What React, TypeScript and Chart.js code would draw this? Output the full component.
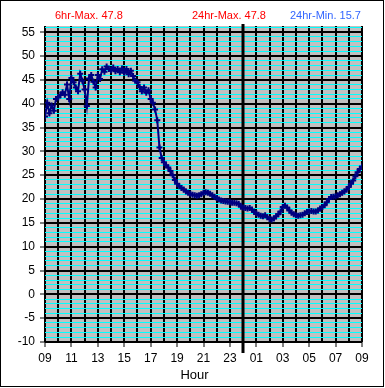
import React, { useEffect, useRef } from 'react';
import { Chart, registerables } from 'chart.js';

Chart.register(...registerables);

// Temperature readings every 10 minutes from 09:00 to 09:00 next day
const TEMPS: number[] = [
  // 09
  37.3, 40.2, 38.0, 39.6, 38.5, 41.0,
  // 10
  41.3, 41.8, 42.4, 41.9, 44.0, 41.0,
  // 11
  45.4, 44.5, 43.4, 42.6, 46.3, 44.8,
  // 12
  43.0, 39.5, 45.3, 46.0, 44.6, 43.4,
  // 13
  46.0, 45.2, 47.2, 46.7, 47.8, 47.3,
  // 14
  47.0, 47.6, 46.8, 47.3, 46.6, 47.4,
  // 15
  46.5, 47.3, 46.2, 46.9, 45.8, 44.8,
  // 16
  44.5, 43.5, 42.6, 43.4, 42.3, 42.8,
  // 17
  41.0, 40.2, 38.8, 36.5, 30.8, 28.6,
  // 18
  27.7, 27.1, 26.6, 25.9, 25.0, 24.0,
  // 19
  23.2, 22.7, 22.3, 22.0, 21.6, 21.3,
  // 20
  21.1, 20.9, 20.8, 20.7, 20.8, 21.0,
  // 21
  21.3, 21.4, 21.3, 21.1, 20.8, 20.5,
  // 22
  20.2, 19.9, 19.7, 19.6, 19.5, 19.4,
  // 23
  19.3, 19.2, 19.2, 19.1, 19.0, 18.4,
  // 00
  18.2, 18.1, 18.0, 18.1, 17.8, 17.3,
  // 01
  17.0, 16.7, 16.5, 16.4, 16.6, 16.2,
  // 02
  15.8, 15.7, 15.9, 16.4, 16.8, 17.4,
  // 03
  18.3, 18.6, 18.2, 17.6, 17.1, 16.8,
  // 04
  16.6, 16.5, 16.6, 16.7, 17.0, 17.3,
  // 05
  17.4, 17.5, 17.4, 17.4, 17.6, 18.0,
  // 06
  18.3, 18.7, 19.3, 20.0, 20.4, 20.5,
  // 07
  20.6, 20.8, 21.0, 21.3, 21.6, 22.0,
  // 08
  22.5, 23.2, 23.9, 24.8, 25.6, 26.3,
  // 09
  26.8,
];

const STEPS_PER_HOUR = 6;
const X_LABELS: string[] = ['09', '11', '13', '15', '17', '19', '21', '23', '01', '03', '05', '07', '09'];
const X_MIN = 0;
const X_MAX = 24;
const MIDNIGHT = 15;
const Y_MIN = -10;
const Y_MAX = 56.3;
const Y_MAJOR = 5;

const HEADER_TEXTS: string[] = ['6hr-Max. 47.8', '24hr-Max. 47.8', '24hr-Min. 15.7'];
const HEADER_COLORS: string[] = ['#ff0000', '#ff0000', '#3366ff'];
const AXIS_TITLE = 'Hour';

const FONT = '"Liberation Sans", Arial, sans-serif';

export default function App() {
  const ref = useRef<HTMLCanvasElement>(null);

  useEffect(() => {
    document.body.style.margin = '0';
    const canvas = ref.current!;

    const decor = {
      id: 'decor',
      beforeDraw(chart: any) {
        const { ctx, chartArea } = chart;
        ctx.save();
        ctx.fillStyle = '#ffffff';
        ctx.fillRect(0, 0, chart.width, chart.height);
        ctx.fillStyle = '#c0c0c0';
        ctx.fillRect(chartArea.left, chartArea.top, chartArea.right - chartArea.left, chartArea.bottom - chartArea.top);
        ctx.restore();
      },
      beforeDatasetsDraw(chart: any) {
        const { ctx, chartArea } = chart;
        const x = Math.round(chart.scales.x.getPixelForValue(MIDNIGHT));
        ctx.save();
        ctx.fillStyle = '#000000';
        ctx.fillRect(x - 1.5, chartArea.top - 2, 3, chartArea.bottom - chartArea.top + 13);
        ctx.restore();
      },
      afterDraw(chart: any) {
        const { ctx } = chart;
        ctx.save();
        ctx.font = `11px ${FONT}`;
        ctx.textBaseline = 'alphabetic';
        ctx.textAlign = 'left';
        const xs = [55, 192, 290];
        HEADER_TEXTS.forEach((t, i) => {
          ctx.fillStyle = HEADER_COLORS[i];
          ctx.fillText(t, xs[i], 19);
        });
        ctx.font = `13px ${FONT}`;
        ctx.fillStyle = '#000000';
        ctx.textAlign = 'center';
        ctx.fillText(AXIS_TITLE, 194.5, 379);
        ctx.strokeStyle = '#000000';
        ctx.lineWidth = 1;
        ctx.strokeRect(0.5, 0.5, 383, 386);
        ctx.restore();
      },
    };

    const chart = new Chart(canvas, {
      type: 'line',
      data: {
        datasets: [
          {
            data: TEMPS.map((t, i) => ({ x: i / STEPS_PER_HOUR, y: t })),
            borderColor: '#000080',
            backgroundColor: '#000080',
            borderWidth: 2,
            pointStyle: 'cross',
            pointRadius: 3,
            pointBorderWidth: 2,
            pointBorderColor: '#000080',
            pointBackgroundColor: '#000080',
            tension: 0,
            fill: false,
          },
        ],
      },
      options: {
        responsive: false,
        animation: false,
        events: [],
        layout: { padding: { left: 0, right: 23, top: 26, bottom: 0 } },
        plugins: { legend: { display: false }, tooltip: { enabled: false } },
        scales: {
          x: {
            type: 'linear',
            min: X_MIN,
            max: X_MAX,
            afterBuildTicks: (s: any) => {
              const ticks = [];
              for (let v = X_MIN; v <= X_MAX; v++) ticks.push({ value: v });
              s.ticks = ticks;
            },
            afterFit: (s: any) => {
              s.height = 46;
            },
            border: { display: false },
            grid: {
              color: '#000000',
              lineWidth: 2,
              tickLength: 5,
              tickWidth: 1,
              tickColor: (c: any) => (c.tick && c.tick.value % 2 === 0 ? '#000000' : 'rgba(0,0,0,0)'),
            },
            ticks: {
              autoSkip: false,
              maxRotation: 0,
              padding: 4,
              color: '#000000',
              font: { family: FONT, size: 12 },
              callback: (v: any) => (v % 2 === 0 ? X_LABELS[v / 2] : ''),
            },
          },
          y: {
            type: 'linear',
            min: Y_MIN,
            max: Y_MAX,
            afterBuildTicks: (s: any) => {
              const ticks = [];
              for (let v = Y_MIN; v <= Math.floor(Y_MAX); v++) ticks.push({ value: v });
              s.ticks = ticks;
            },
            afterFit: (s: any) => {
              s.width = 45;
            },
            border: { display: false },
            grid: {
              z: -1,
              color: (c: any) => (c.tick && c.tick.value % Y_MAJOR === 0 ? '#000000' : '#00ffff'),
              lineWidth: (c: any) => (c.tick && c.tick.value % Y_MAJOR === 0 ? 2 : 1),
              tickLength: 5,
              tickWidth: 1,
              tickColor: (c: any) => (c.tick && c.tick.value % Y_MAJOR === 0 ? '#000000' : 'rgba(0,0,0,0)'),
            },
            ticks: {
              autoSkip: false,
              padding: 5,
              color: '#000000',
              font: { family: FONT, size: 12 },
              callback: (v: any) => (v % Y_MAJOR === 0 ? String(v) : ''),
            },
          },
        },
      },
      plugins: [decor],
    });
    return () => chart.destroy();
  }, []);

  return (
    <div style={{ position: 'fixed', left: 0, top: 0, width: 385, height: 388 }}>
      <canvas ref={ref} width={385} height={388} style={{ display: 'block', width: 385, height: 388 }} />
    </div>
  );
}
